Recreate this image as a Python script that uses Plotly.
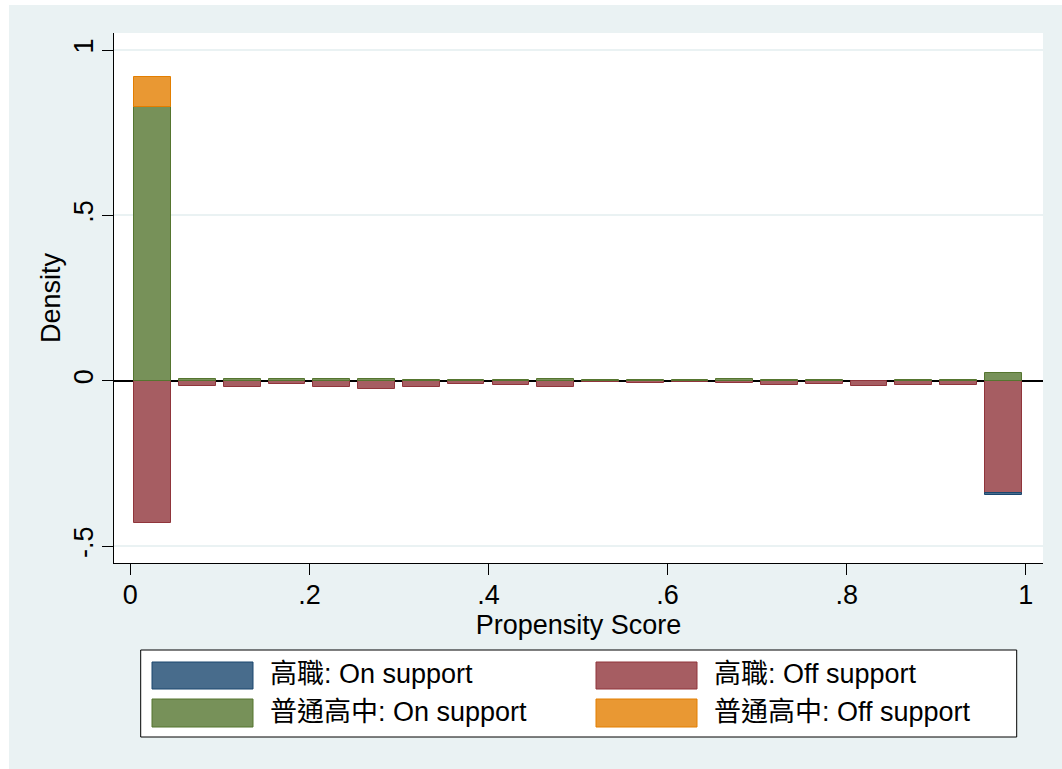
import plotly.graph_objects as go

# Propensity-score histogram: 20 bins of width .05
bin_centers = [0.025, 0.075, 0.125, 0.175, 0.225, 0.275, 0.325, 0.375, 0.425, 0.475,
               0.525, 0.575, 0.625, 0.675, 0.725, 0.775, 0.825, 0.875, 0.925, 0.975]

# Densities per bin (the 高職 group is mirrored below zero)
vocational_off = [0.429, 0.015, 0.020, 0.010, 0.020, 0.025, 0.018, 0.010, 0.014, 0.018,
                  0.005, 0.008, 0.005, 0.008, 0.014, 0.010, 0.016, 0.014, 0.014, 0.338]
vocational_on = [0.0, 0.0, 0.0, 0.0, 0.0, 0.0, 0.0, 0.0, 0.0, 0.0,
                 0.0, 0.0, 0.0, 0.0, 0.0, 0.0, 0.0, 0.0, 0.0, 0.007]
academic_on = [0.828, 0.004, 0.004, 0.006, 0.006, 0.004, 0.002, 0.002, 0.002, 0.004,
               0.001, 0.001, 0.001, 0.005, 0.001, 0.001, 0.000, 0.001, 0.001, 0.023]
academic_off = [0.089, 0.0, 0.0, 0.0, 0.0, 0.0, 0.0, 0.0, 0.0, 0.0,
                0.0, 0.0, 0.0, 0.0, 0.0, 0.0, 0.0, 0.0, 0.0, 0.0]

x_ticks = [0, 0.2, 0.4, 0.6, 0.8, 1]
x_tick_labels = ["0", ".2", ".4", ".6", ".8", "1"]
y_ticks = [-0.5, 0, 0.5, 1]
y_tick_labels = ["-.5", "0", ".5", "1"]

FONT = "Liberation Sans, Arial, Helvetica, Noto Sans CJK TC, sans-serif"
FS = 27
BG = "#EAF2F3"
BAR_WIDTH = 0.041

# (label, values, sign, fill, outline)
series = [
    ("高職: Off support", vocational_off, -1, "#A65D62", "#90353B"),
    ("高職: On support", vocational_on, -1, "#486C8C", "#1A476F"),
    ("普通高中: On support", academic_on, 1, "#779159", "#55752F"),
    ("普通高中: Off support", academic_off, 1, "#E99833", "#E37E00"),
]

fig = go.Figure()
for name, vals, sign, fill, line in series:
    # empty bins are left out so no outline is drawn at zero height
    fig.add_trace(go.Bar(
        x=bin_centers, y=[sign * v if v > 0 else None for v in vals], width=BAR_WIDTH, name=name,
        marker=dict(color=fill, line=dict(color=line, width=1)),
        showlegend=False,
    ))

W, H = 1062, 769
ML, MR, MT, MB = 114, 19, 33, 206
PW, PH = W - ML - MR, H - MT - MB


def px(x):
    return (x - ML) / PW


def py(y):
    return (H - MB - y) / PH


shapes = [
    # white page edge around the graph region
    dict(type="rect", xref="paper", yref="paper", x0=px(0), x1=px(9), y0=py(H), y1=py(0),
         fillcolor="white", line=dict(width=0), layer="below"),
    dict(type="rect", xref="paper", yref="paper", x0=px(0), x1=px(W), y0=py(5), y1=py(0),
         fillcolor="white", line=dict(width=0), layer="below"),
    # legend box
    dict(type="rect", xref="paper", yref="paper", x0=px(140.7), x1=px(1016.7), y0=py(737), y1=py(650),
         fillcolor="white", line=dict(color="black", width=1)),
]
annotations = []

legend_order = [series[1], series[0], series[2], series[3]]
col_x = [152, 596]
row_y = [(662, 689), (699, 727)]
for i, (name, vals, sign, fill, line) in enumerate(legend_order):
    c, r = i % 2, i // 2
    x0 = col_x[c]
    y0, y1 = row_y[r]
    shapes.append(dict(type="rect", xref="paper", yref="paper",
                       x0=px(x0), x1=px(x0 + 101), y0=py(y1), y1=py(y0),
                       fillcolor=fill, line=dict(color=line, width=1)))
    annotations.append(dict(xref="paper", yref="paper", x=px(x0 + 116), y=py((y0 + y1) / 2 - 1.5),
                            text=name, showarrow=False, xanchor="left", yanchor="middle",
                            font=dict(family=FONT, size=FS, color="black")))

fig.update_layout(
    width=W, height=H,
    margin=dict(l=ML, r=MR, t=MT, b=MB, pad=0, autoexpand=False),
    paper_bgcolor=BG, plot_bgcolor="white",
    barmode="relative", bargap=0,
    font=dict(family=FONT, size=FS, color="black"),
    shapes=shapes, annotations=annotations,
    showlegend=False,
)
fig.update_xaxes(
    range=[-0.0183, 1.0193], tickvals=x_ticks, ticktext=x_tick_labels,
    showgrid=False, zeroline=False, showline=True, linecolor="black", linewidth=1,
    ticks="outside", ticklen=11, tickwidth=1, tickcolor="black",
    ticklabelstandoff=-3, automargin=True,
    title=dict(text="Propensity Score", standoff=0, font=dict(size=FS)),
    tickfont=dict(size=FS),
)
fig.update_yaxes(
    range=[-0.5508, 1.0514], tickvals=y_ticks, ticktext=y_tick_labels, tickangle=-90,
    showgrid=True, gridcolor=BG, gridwidth=2,
    zeroline=True, zerolinecolor="black", zerolinewidth=1.5,
    showline=True, linecolor="black", linewidth=1,
    ticks="outside", ticklen=11, tickwidth=1, tickcolor="black",
    ticklabelstandoff=-2, automargin=True,
    title=dict(text="Density", standoff=0, font=dict(size=FS)),
    tickfont=dict(size=FS),
)

fig.write_html("out.html")
